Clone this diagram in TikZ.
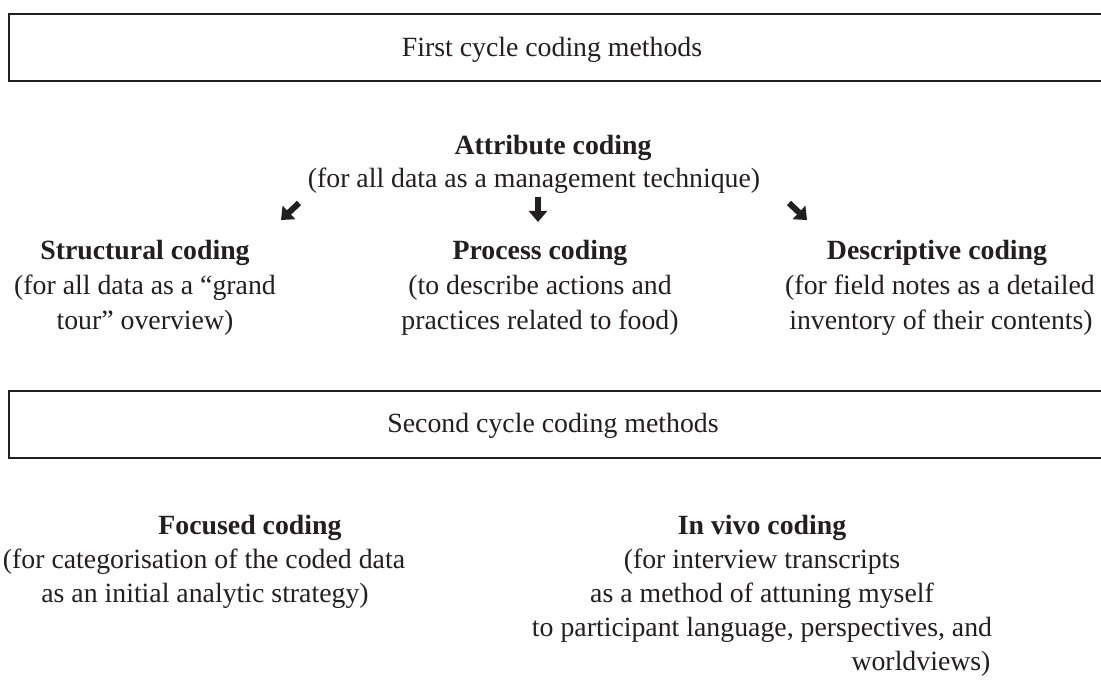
\documentclass[tikz,border=0pt]{standalone}
\usepackage{fontspec}
\setmainfont{Liberation Serif}
\usetikzlibrary{arrows.meta}
\definecolor{ink}{HTML}{231F20}
\begin{document}
\begin{tikzpicture}[x=1pt,y=-1pt,
  txt/.style={anchor=base, inner sep=0pt, text=ink, font=\fontsize{27.8}{34}\selectfont},
  hd/.style={anchor=base, inner sep=0pt, text=ink, font=\fontsize{27.8}{34}\selectfont\bfseries},
  cyclebox/.style={draw=ink, line width=1.7pt, minimum width=1120pt, minimum height=67pt, anchor=north west, inner sep=0pt},
  heavyarrow/.style={draw=ink, line width=6pt, -{Triangle[width=18pt,length=11pt]}}]
\useasboundingbox (0,0) rectangle (1101,700);
\clip (0,0) rectangle (1101,700);
\fill[white] (0,0) rectangle (1101,700);
% first cycle
\node[cyclebox] (box1) at (8,13) {};
\node[txt] (t1) at (552,57) {First cycle coding methods};
\node[hd] (attr) at (553,155) {Attribute coding};
\node[txt] (attrd) at (534,188) {(for all data as a management technique)};
\coordinate (a1s) at (299,203);
\coordinate (a1e) at (281,220);
\coordinate (a2s) at (538,197);
\coordinate (a2e) at (538,222);
\coordinate (a3s) at (789,203);
\coordinate (a3e) at (807,220);
\draw[heavyarrow] (a1s) -- (a1e);
\draw[heavyarrow] (a2s) -- (a2e);
\draw[heavyarrow] (a3s) -- (a3e);
\node[hd] (str) at (145,260) {Structural coding};
\node[txt] (str1) at (145,295) {(for all data as a ``grand};
\node[txt] (str2) at (145,330) {tour'' overview)};
\node[hd] (proc) at (540,260) {Process coding};
\node[txt] (proc1) at (540,295) {(to describe actions and};
\node[txt] (proc2) at (540,330) {practices related to food)};
\node[hd] (desc) at (937,260) {Descriptive coding};
\node[txt] (desc1) at (940,295) {(for field notes as a detailed};
\node[txt] (desc2) at (941,330) {inventory of their contents)};
% second cycle
\node[cyclebox] (box2) at (8,390) {};
\node[txt] (t2) at (553,433) {Second cycle coding methods};
\node[hd] (foc) at (250,534) {Focused coding};
\node[txt] (foc1) at (204,568) {(for categorisation of the coded data};
\node[txt] (foc2) at (205,602) {as an initial analytic strategy)};
\node[hd] (viv) at (762,534) {In vivo coding};
\node[txt] (viv1) at (762,568) {(for interview transcripts};
\node[txt] (viv2) at (762,602) {as a method of attuning myself};
\node[txt] (viv3) at (762,636) {to participant language, perspectives, and};
\node[txt] (viv4) at (921,670) {worldviews)};
\end{tikzpicture}
\end{document}
